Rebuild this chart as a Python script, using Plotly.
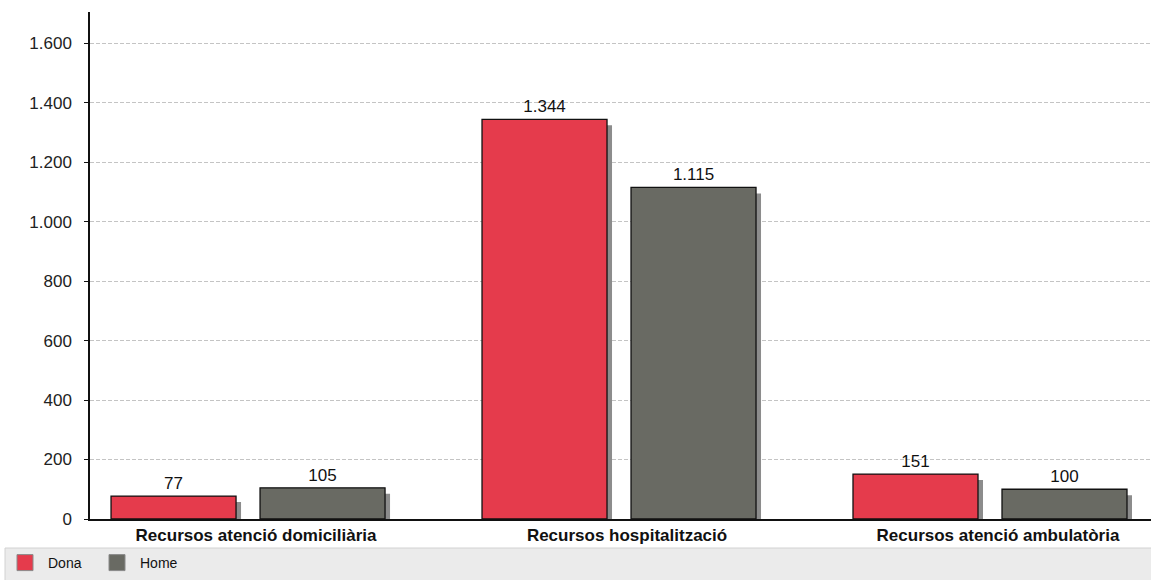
import plotly.graph_objects as go

categories = ["Recursos atenció domiciliària", "Recursos hospitalització", "Recursos atenció ambulatòria"]
dona = [77, 1344, 151]
home = [105, 1115, 100]
series_names = ["Dona", "Home"]
y_ticks = [0, 200, 400, 600, 800, 1000, 1200, 1400, 1600]

colors = {"Dona": "#E53B4C", "Home": "#696A63"}
shadow_color = "#8C8C8C"

W, H = 1151, 580
ml, mr, mt, mb = 90, 0, 12, 61
plot_w = W - ml - mr
plot_h = H - mt - mb
x_range = [-0.426, 2.434]
y_range = [0, 1705]
px_x = (x_range[1] - x_range[0]) / plot_w   # units per pixel
px_y = (y_range[1] - y_range[0]) / plot_h

bar_w = 125 * px_x
offsets = {"Dona": -137 * px_x, "Home": 12 * px_x}
font = "Liberation Sans, Arial, sans-serif"

fig = go.Figure()

# shadows
for name, vals in zip(series_names, [dona, home]):
    fig.add_trace(go.Bar(
        x=categories, y=[v - 6 * px_y for v in vals],
        width=bar_w, offset=offsets[name] + 5 * px_x,
        marker=dict(color=shadow_color, line=dict(width=0)),
        showlegend=False, hoverinfo="skip",
    ))

# main bars
for name, vals in zip(series_names, [dona, home]):
    fig.add_trace(go.Bar(
        x=categories, y=vals, name=name,
        width=bar_w, offset=offsets[name],
        marker=dict(color=colors[name], line=dict(color="#111111", width=1.3)),
        text=vals, texttemplate="%{y:,}", textposition="outside",
        textfont=dict(family=font, size=17, color="#111111"),
        cliponaxis=False, showlegend=False,
    ))

# legend entries
for name in series_names:
    fig.add_trace(go.Scatter(
        x=[None], y=[None], mode="markers", name=name,
        marker=dict(symbol="square", size=20, color=colors[name],
                    line=dict(color="#8A8A8A", width=1)),
    ))

fig.update_layout(
    width=W, height=H,
    margin=dict(l=ml, r=mr, t=mt, b=mb),
    plot_bgcolor="white", paper_bgcolor="white",
    barmode="overlay",
    separators=",.",
    font=dict(family=font, size=17, color="#222222"),
    xaxis=dict(
        type="category", range=x_range, showgrid=False,
        showline=True, linecolor="#111111", linewidth=1.5,
        ticks="", tickfont=dict(family=font, size=17, color="#111111", weight="bold"),
        ticklabelshift=8, ticklabelstandoff=0,
        fixedrange=True, zeroline=False,
    ),
    yaxis=dict(
        range=y_range, tickvals=y_ticks, tickformat=",d",
        showgrid=True, gridcolor="#C4C4C4", griddash="4px,2px", gridwidth=1,
        showline=True, linecolor="#111111", linewidth=1.5,
        ticks="outside", ticklen=4, tickcolor="#111111",
        tickfont=dict(family=font, size=17, color="#222222"),
        zeroline=False, ticklabelstandoff=9,
    ),
    legend=dict(
        orientation="h", x=(2 - ml) / plot_w, xanchor="left",
        y=-(563 - (H - mb)) / plot_h, yanchor="middle",
        bgcolor="rgba(0,0,0,0)", font=dict(family=font, size=14, color="#111111"),
        itemwidth=36, traceorder="normal", itemsizing="trace",
        entrywidth=41, entrywidthmode="pixels",
    ),
    shapes=[dict(
        type="rect", xref="paper", yref="paper", layer="below",
        x0=(5 - ml) / plot_w, x1=1.02,
        y0=-(548 - (H - mb)) / plot_h, y1=-(585 - (H - mb)) / plot_h,
        fillcolor="#EBEBEB", line=dict(color="#D2D2D2", width=1),
    )],
)

fig.write_html("out.html", config={"displayModeBar": False},
               post_script="document.body.style.margin='0';")
